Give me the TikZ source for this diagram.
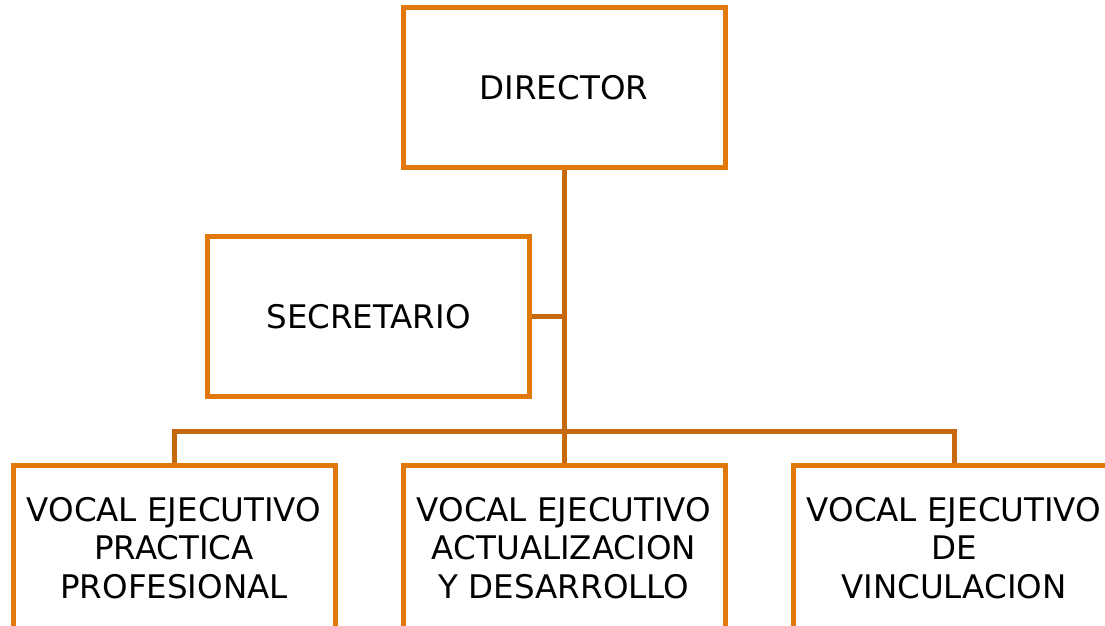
\documentclass[tikz,border=0pt]{standalone}
\usepackage{fontspec}
\setmainfont{DejaVu Sans}
\definecolor{boxorange}{RGB}{224,120,12}
\definecolor{lineorange}{RGB}{197,104,14}
\begin{document}
\begin{tikzpicture}[x=1pt,y=1pt,
  orgbox/.style={draw=boxorange, line width=5pt, fill=white, rectangle, inner sep=0pt,
    minimum width=322pt, align=center, text=black,
    font=\fontsize{32.5}{38.5}\selectfont},
  conn/.style={draw=lineorange, line width=5pt}]
\useasboundingbox (0,0) rectangle (1105,626);
\clip (0,0) rectangle (1105,626);
\node[orgbox, minimum height=160pt] (dir) at (564,538) {DIRECTOR};
\node[orgbox, minimum height=160pt] (sec) at (368.5,309) {SECRETARIO};
\node[orgbox, minimum height=164pt] (v1) at (174,78) {VOCAL EJECUTIVO\\PRACTICA\\PROFESIONAL};
\node[orgbox, minimum height=164pt] (v2) at (564,78) {VOCAL EJECUTIVO\\ACTUALIZACION\\Y DESARROLLO};
\node[orgbox, minimum height=164pt] (v3) at (954,78) {VOCAL EJECUTIVO\\DE\\VINCULACION};
\coordinate (bar) at (564,194);
\path[conn] (dir.south) -- (bar);
\path[conn] (sec.east) -- (sec.east -| dir.south);
\path[conn] (v1.north) |- (bar) -| (v3.north);
\path[conn] (bar) -- (v2.north);
\end{tikzpicture}
\end{document}
